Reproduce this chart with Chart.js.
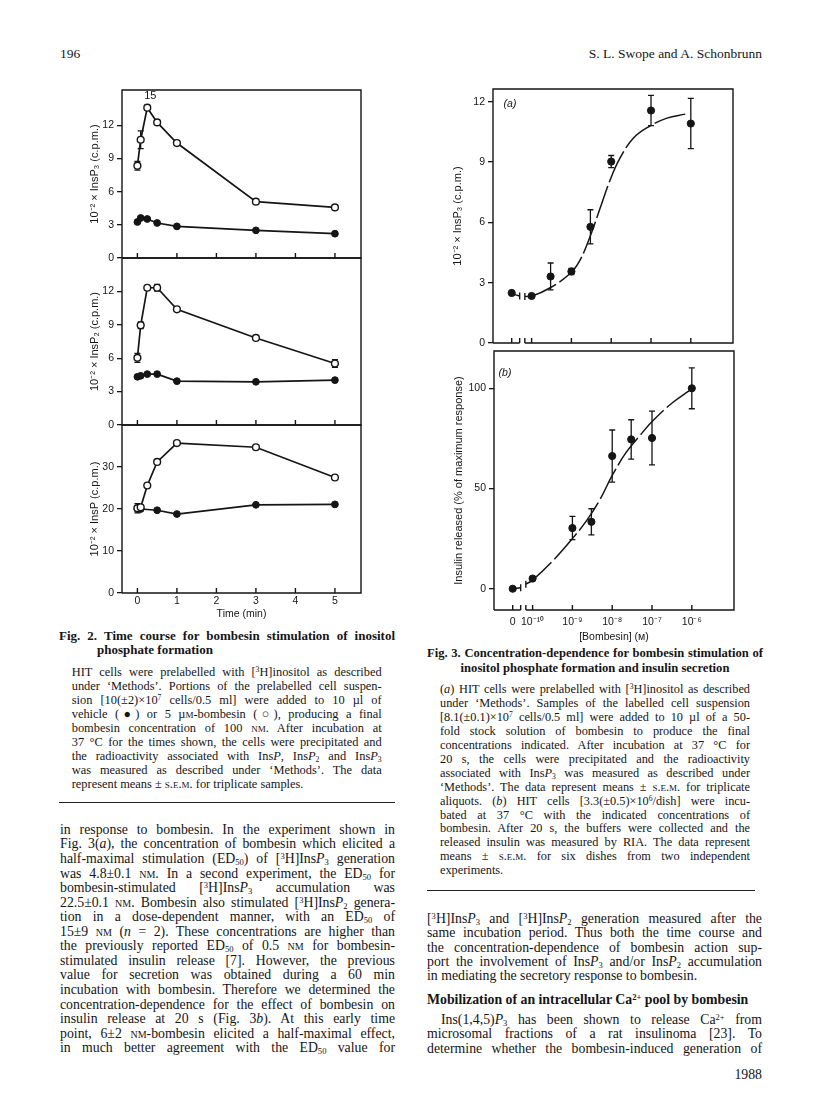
<!DOCTYPE html>
<html>
<head>
<meta charset="utf-8">
<script src="https://cdn.jsdelivr.net/npm/chart.js@4.4.0/dist/chart.umd.min.js"></script>
<style>
  body { margin: 0; width: 816px; height: 1100px; position: relative; overflow: hidden; background: #fff;
         font-family: "Liberation Serif", "Times New Roman", serif; color: #151515; }
  canvas { position: absolute; }
  .ln { position: absolute; white-space: nowrap; }
  .j { text-align: justify; text-align-last: justify; }
  .sc { font-variant: small-caps; }
  .b { font-weight: bold; }
  sup { font-size: 0.62em; vertical-align: 0.5em; line-height: 0; }
  sub { font-size: 0.62em; vertical-align: -0.22em; line-height: 0; }
  .rule { position: absolute; height: 0; border-top: 1.2px solid #222; }
</style>
</head>
<body>
<canvas id="f2a"></canvas>
<canvas id="f2b"></canvas>
<canvas id="f2c"></canvas>
<canvas id="f3a"></canvas>
<canvas id="f3b"></canvas>
<div id="page"></div>

<script>
// ---- Fig. 2: time course (min) ----
const timeMin   = [0, 0.083, 0.25, 0.5, 1, 3, 5];
const timeVehP  = [0, 0.083, 0.5, 1, 3, 5];
const timeTicks = [0, 1, 2, 3, 4, 5];

const insP3Bomb    = [8.35, 10.7, 13.6, 12.27, 10.4, 5.1, 4.58];
const insP3BombErr = [0.4, 0.8, 0, 0, 0, 0, 0];
const insP3Veh     = [3.26, 3.62, 3.53, 3.17, 2.86, 2.5, 2.2];

const insP2Bomb    = [6.03, 8.96, 12.33, 12.33, 10.39, 7.82, 5.52];
const insP2BombErr = [0.4, 0.3, 0, 0.3, 0, 0, 0.35];
const insP2Veh     = [4.33, 4.42, 4.57, 4.57, 3.94, 3.88, 4.03];

const insPBomb    = [20.2, 20.4, 25.6, 31.2, 35.7, 34.7, 27.5];
const insPBombErr = [1.1, 0, 0, 0, 0, 0, 0];
const insPVeh     = [20, 20, 19.7, 18.8, 21, 21.1];

// ---- Fig. 3: concentration dependence ([Bombesin], M) ----
const doseTicks  = [0, 1e-10, 1e-9, 1e-8, 1e-7, 1e-6];
const doseLabels = ['0', '10⁻¹⁰', '10⁻⁹', '10⁻⁸', '10⁻⁷', '10⁻⁶'];

const concA        = [0, 1e-10, 3e-10, 1e-9, 3e-9, 1e-8, 1e-7, 1e-6];
const insP3Dose    = [2.49, 2.34, 3.31, 3.56, 5.78, 9.03, 11.57, 10.92];
const insP3DoseErr = [0, 0, 0.67, 0.15, 0.85, 0.3, 0.75, 1.25];
// fitted curve (log10 of concentration; -10.5 = zero)
const fitA1Log = [-10.5, -10.3];
const fitA1    = [2.45, 2.34];
const fitA2Log = [-10.17, -10, -9.53, -9.02, -8.78, -8.53, -8.28, -8.03, -7.78, -7.44, -7.05, -6.6, -6.14];
const fitA2    = [2.32, 2.33, 2.75, 3.48, 4.14, 5.3, 6.7, 8.1, 9.2, 10.2, 10.77, 11.19, 11.39];

const concB      = [0, 1e-10, 1e-9, 3e-9, 1e-8, 3e-8, 1e-7, 1e-6];
const insulin    = [0, 5.1, 30.3, 33.4, 66.2, 74.5, 75.2, 100];
const insulinErr = [0, 0, 5.8, 6.5, 13, 9.8, 13.4, 10.2];
const fitB1Log = [-10.5, -10.3];
const fitB1    = [0, 0.5];
const fitB2Log = [-10.17, -10, -9.48, -9.0, -8.64, -8.31, -8.0, -7.65, -7.31, -6.98, -6.48, -6.07];
const fitB2    = [2.3, 4.3, 14.2, 25, 34.1, 44.4, 56.5, 68, 76.3, 83.8, 92.9, 98.7];

const INK = '#151515';
const ZERO_POS = -10.5;
const lx = c => (c === 0 ? ZERO_POS : Math.log10(c));

Chart.defaults.font.family = '"Liberation Sans", Arial, sans-serif';
Chart.defaults.font.size = 10.5;
Chart.defaults.color = INK;

const pts = (xs, ys) => xs.map((x, i) => ({ x, y: ys[i] }));

function openSeries(xs, ys, errs) {
    return { data: pts(xs, ys), errors: errs, showLine: true, borderColor: INK, borderWidth: 1.7,
             pointRadius: 3.4, pointBackgroundColor: '#fff', pointBorderColor: INK, pointBorderWidth: 1.4 };
}
function filledSeries(xs, ys, errs, line = true, r = 3.4) {
    return { data: pts(xs, ys), errors: errs, showLine: line, borderColor: INK, borderWidth: 1.7,
             pointRadius: r, pointBackgroundColor: INK, pointBorderColor: INK, pointBorderWidth: 1 };
}
function fitSeries(xs, ys, bar) {
    return { data: pts(xs, ys), showLine: true, pointRadius: 0, borderColor: INK, borderWidth: 1.5,
             borderDash: [34, 4], tension: 0.4, breakBar: bar };
}

// frame, inward x ticks, axis breaks, error bars, text labels
const framePlugin = {
    id: 'frame',
    beforeDatasetsDraw(chart) {
        const { ctx } = chart, xs = chart.scales.x, ys = chart.scales.y;
        ctx.save();
        ctx.strokeStyle = INK; ctx.lineWidth = 1.3;
        chart.data.datasets.forEach(ds => {
            if (!ds.errors) return;
            ds.data.forEach((p, i) => {
                const e = ds.errors[i];
                if (!e) return;
                const x = xs.getPixelForValue(p.x);
                const y1 = ys.getPixelForValue(p.y + e), y2 = ys.getPixelForValue(p.y - e);
                ctx.beginPath();
                ctx.moveTo(x, y1); ctx.lineTo(x, y2);
                ctx.moveTo(x - 3, y1); ctx.lineTo(x + 3, y1);
                ctx.moveTo(x - 3, y2); ctx.lineTo(x + 3, y2);
                ctx.stroke();
            });
        });
        ctx.restore();
    },
    afterDraw(chart, args, opts) {
        const { ctx, chartArea: a } = chart, xs = chart.scales.x, ys = chart.scales.y;
        ctx.save();
        ctx.strokeStyle = INK; ctx.lineWidth = 1.4;
        ctx.beginPath();
        ctx.moveTo(a.left, a.bottom); ctx.lineTo(a.left, a.top);
        ctx.lineTo(a.right, a.top); ctx.lineTo(a.right, a.bottom);
        if (opts.axisBreak) {
            const b1 = xs.getPixelForValue(opts.axisBreak[0]), b2 = xs.getPixelForValue(opts.axisBreak[1]);
            ctx.lineTo(b2, a.bottom);
            ctx.moveTo(b1, a.bottom); ctx.lineTo(a.left, a.bottom);
            ctx.moveTo(b1, a.bottom); ctx.lineTo(b1, a.bottom - 5);
            ctx.moveTo(b2, a.bottom); ctx.lineTo(b2, a.bottom - 5);
        } else {
            ctx.lineTo(a.left, a.bottom);
        }
        opts.xTicks.forEach(v => {
            const x = xs.getPixelForValue(v);
            ctx.moveTo(x, a.bottom); ctx.lineTo(x, a.bottom - 5);
        });
        ctx.stroke();

        chart.data.datasets.forEach(ds => {
            if (!ds.breakBar) return;
            const p = ds.breakBar === 'end' ? ds.data[ds.data.length - 1] : ds.data[0];
            const x = xs.getPixelForValue(p.x), y = ys.getPixelForValue(p.y);
            ctx.beginPath(); ctx.moveTo(x, y - 3.5); ctx.lineTo(x, y + 3.5); ctx.stroke();
        });

        ctx.fillStyle = INK;
        ctx.textAlign = 'center'; ctx.textBaseline = 'middle';
        (opts.labels || []).forEach(l => {
            ctx.font = l.font;
            let x, y;
            if (l.ds !== undefined) {
                const p = chart.data.datasets[l.ds].data[l.i];
                x = xs.getPixelForValue(p.x); y = ys.getPixelForValue(p.y);
            } else {
                x = a.left; y = a.top;
            }
            ctx.fillText(l.text, x + l.dx, y + l.dy);
        });
        ctx.restore();
    }
};
Chart.register(framePlugin);

function makePanel(id, box, cfg) {
    const PT = 12, PR = 8;
    const cv = document.getElementById(id);
    const w = box.r - box.l + cfg.axisW + PR, h = box.b - box.t + PT + cfg.axisH;
    cv.width = w; cv.height = h;
    cv.style.left = (box.l - cfg.axisW) + 'px';
    cv.style.top = (box.t - PT) + 'px';
    cv.style.width = w + 'px'; cv.style.height = h + 'px';

    return new Chart(cv, {
        type: 'scatter',
        data: { datasets: cfg.datasets },
        options: {
            responsive: false,
            animation: false,
            layout: { padding: { top: PT, right: PR, left: 0, bottom: 0 } },
            plugins: {
                legend: { display: false },
                tooltip: { enabled: false },
                frame: { xTicks: cfg.xTicks, axisBreak: cfg.axisBreak, labels: cfg.labels }
            },
            scales: {
                x: {
                    type: 'linear', min: cfg.xMin, max: cfg.xMax,
                    afterFit: s => { s.height = cfg.axisH; },
                    afterBuildTicks: s => { s.ticks = cfg.xTicks.map(v => ({ value: v })); },
                    grid: { display: false, drawTicks: false },
                    border: { display: false },
                    ticks: { display: !!cfg.xLabels, padding: cfg.xPad || 2, maxRotation: 0,
                             font: { size: 10.5 },
                             callback: (v, i) => (cfg.xLabels ? cfg.xLabels[i] : v) },
                    title: { display: !!cfg.xTitle, text: cfg.xTitle, font: { size: 10.5 },
                             padding: { top: 0, bottom: cfg.xTitlePad || 0 } }
                },
                y: {
                    type: 'linear', min: cfg.yMin, max: cfg.yMax,
                    afterFit: s => { s.width = cfg.axisW; },
                    afterBuildTicks: s => { s.ticks = cfg.yTicks.map(v => ({ value: v })); },
                    grid: { drawOnChartArea: false, tickLength: 5, color: INK, lineWidth: 1.3 },
                    border: { display: false },
                    ticks: { padding: 3, font: { size: 10.5 } },
                    title: { display: true, text: cfg.yTitle, font: { size: 11 },
                             padding: { top: cfg.yTitlePad, bottom: 0 } }
                }
            }
        }
    });
}

const F2X = { xMin: -0.39, xMax: 5.66 };

makePanel('f2a', { l: 122, t: 90, r: 361, b: 258 }, {
    ...F2X, axisW: 40, axisH: 12, yMin: 0, yMax: 15.2, yTicks: [0, 3, 6, 9, 12], yTitlePad: 6,
    xTicks: timeTicks, yTitle: '10⁻² × InsP₃ (c.p.m.)',
    datasets: [openSeries(timeMin, insP3Bomb, insP3BombErr), filledSeries(timeMin, insP3Veh)],
    labels: [{ ds: 0, i: 2, text: '15', dx: 3, dy: -12, font: '11px "Liberation Sans", Arial' }]
});
makePanel('f2b', { l: 122, t: 258, r: 361, b: 425 }, {
    ...F2X, axisW: 40, axisH: 12, yMin: 0, yMax: 15, yTicks: [0, 3, 6, 9, 12], yTitlePad: 6,
    xTicks: timeTicks, yTitle: '10⁻² × InsP₂ (c.p.m.)',
    datasets: [openSeries(timeMin, insP2Bomb, insP2BombErr), filledSeries(timeMin, insP2Veh)]
});
makePanel('f2c', { l: 122, t: 425, r: 361, b: 593 }, {
    ...F2X, axisW: 40, axisH: 30, yMin: 0, yMax: 40, yTicks: [0, 10, 20, 30], yTitlePad: 6,
    xTicks: timeTicks, xLabels: timeTicks.map(String), xPad: 2,
    xTitle: 'Time (min)', xTitlePad: 3, yTitle: '10⁻² × InsP (c.p.m.)',
    datasets: [openSeries(timeMin, insPBomb, insPBombErr), filledSeries(timeVehP, insPVeh)]
});

const F3X = { xMin: -10.97, xMax: -4.94, axisBreak: [-10.3, -10.17] };
const doseTickPos = doseTicks.map(lx);

makePanel('f3a', { l: 493, t: 89, r: 733, b: 343 }, {
    ...F3X, axisW: 44, axisH: 12, yMin: 0, yMax: 12.64, yTicks: [0, 3, 6, 9, 12], yTitlePad: 2,
    xTicks: doseTickPos, yTitle: '10⁻² × InsP₃ (c.p.m.)',
    datasets: [
        filledSeries(concA.map(lx), insP3Dose, insP3DoseErr, false, 3.6),
        fitSeries(fitA1Log, fitA1, 'end'),
        fitSeries(fitA2Log, fitA2, 'start')
    ],
    labels: [{ text: '(a)', dx: 17, dy: 15, font: 'italic 10.5px "Liberation Sans", Arial' }]
});
makePanel('f3b', { l: 494, t: 351, r: 734, b: 610 }, {
    ...F3X, axisW: 44, axisH: 34, yMin: -10.6, yMax: 118.6, yTicks: [0, 50, 100], yTitlePad: 2,
    xTicks: doseTickPos, xLabels: doseLabels, xPad: 6,
    xTitle: '[Bombesin] (ᴍ)', xTitlePad: 1, yTitle: 'Insulin released (% of maximum response)',
    datasets: [
        filledSeries(concB.map(lx), insulin, insulinErr, false, 3.6),
        fitSeries(fitB1Log, fitB1, 'end'),
        fitSeries(fitB2Log, fitB2, 'start')
    ],
    labels: [{ text: '(b)', dx: 11, dy: 22, font: 'italic 10.5px "Liberation Sans", Arial' }]
});

// ---- page text ----
const page = document.getElementById('page');
function placeLines(lines, o) {
    const fs = o.size, lh = o.lh || fs;
    const off = (lh - 1.107 * fs) / 2 + 0.661 * fs;   // line top -> x-height centre
    lines.forEach((html, i) => {
        const d = document.createElement('div');
        const plain = (o.plain || []).includes(i) || o.justify === false;
        d.className = 'ln' + (plain ? '' : ' j') + (o.bold ? ' b' : '');
        const indent = (o.indent && o.indent[i]) || 0;
        d.style.left = (o.left + indent) + 'px';
        d.style.top = (o.y - off + i * lh) + 'px';
        if (o.width) d.style.width = (o.width - indent) + 'px';
        if (o.align) { d.style.textAlign = o.align; d.style.textAlignLast = o.align; }
        d.style.fontSize = fs + 'px';
        d.style.lineHeight = lh + 'px';
        d.innerHTML = html;
        page.appendChild(d);
    });
}
function rule(x1, x2, y) {
    const d = document.createElement('div');
    d.className = 'rule';
    d.style.left = x1 + 'px'; d.style.width = (x2 - x1) + 'px'; d.style.top = y + 'px';
    page.appendChild(d);
}
const sc = t => `<span class="sc">${t}</span>`;
const P = n => `Ins<i>P</i>${n ? '<sub>' + n + '</sub>' : ''}`;

placeLines(['196'], { left: 60, y: 55, size: 13.5, justify: false });
placeLines(['S. L. Swope and A. Schonbrunn'], { left: 500, width: 262, y: 55, size: 13.5, align: 'right' });

placeLines(['Fig. 2. Time course for bombesin stimulation of inositol'],
    { left: 59, width: 336, y: 636.7, size: 13, bold: true });
placeLines(['phosphate formation'], { left: 97, y: 651, size: 13, bold: true, justify: false });

placeLines([
    'HIT cells were prelabelled with [<sup>3</sup>H]inositol as described',
    'under ‘Methods’. Portions of the prelabelled cell suspen-',
    'sion [10(±2)×10<sup>7</sup> cells/0.5 ml] were added to 10 µl of',
    `vehicle (●) or 5 µ${sc('m')}-bombesin (○), producing a final`,
    `bombesin concentration of 100 ${sc('nm')}. After incubation at`,
    '37 °C for the times shown, the cells were precipitated and',
    `the radioactivity associated with ${P()}, ${P(2)} and ${P(3)}`,
    'was measured as described under ‘Methods’. The data',
    `represent means ± ${sc('s.e.m.')} for triplicate samples.`
], { left: 71.7, width: 310, y: 673.3, size: 12.4, lh: 14, plain: [8] });
rule(59, 395, 801.5);

placeLines([
    'in response to bombesin. In the experiment shown in',
    'Fig. 3(<i>a</i>), the concentration of bombesin which elicited a',
    `half-maximal stimulation (ED<sub>50</sub>) of [<sup>3</sup>H]${P(3)} generation`,
    `was 4.8±0.1 ${sc('nm')}. In a second experiment, the ED<sub>50</sub> for`,
    `bombesin-stimulated [<sup>3</sup>H]${P(3)} accumulation was`,
    `22.5±0.1 ${sc('nm')}. Bombesin also stimulated [<sup>3</sup>H]${P(2)} genera-`,
    'tion in a dose-dependent manner, with an ED<sub>50</sub> of',
    `15±9 ${sc('nm')} (<i>n</i> = 2). These concentrations are higher than`,
    `the previously reported ED<sub>50</sub> of 0.5 ${sc('nm')} for bombesin-`,
    'stimulated insulin release [7]. However, the previous',
    'value for secretion was obtained during a 60 min',
    'incubation with bombesin. Therefore we determined the',
    'concentration-dependence for the effect of bombesin on',
    'insulin release at 20 s (Fig. 3<i>b</i>). At this early time',
    `point, 6±2 ${sc('nm')}-bombesin elicited a half-maximal effect,`,
    'in much better agreement with the ED<sub>50</sub> value for'
], { left: 60, width: 335, y: 831.7, size: 13.8, lh: 14.55 });

placeLines(['Fig. 3. Concentration-dependence for bombesin stimulation of'],
    { left: 427, width: 336, y: 655, size: 12.6, bold: true });
placeLines(['inositol phosphate formation and insulin secretion'],
    { left: 427, width: 336, y: 669.3, size: 12.6, bold: true, align: 'center' });

placeLines([
    '(<i>a</i>) HIT cells were prelabelled with [<sup>3</sup>H]inositol as described',
    'under ‘Methods’. Samples of the labelled cell suspension',
    '[8.1(±0.1)×10<sup>7</sup> cells/0.5 ml] were added to 10 µl of a 50-',
    'fold stock solution of bombesin to produce the final',
    'concentrations indicated. After incubation at 37 °C for',
    '20 s, the cells were precipitated and the radioactivity',
    `associated with ${P(3)} was measured as described under`,
    `‘Methods’. The data represent means ± ${sc('s.e.m.')} for triplicate`,
    'aliquots. (<i>b</i>) HIT cells [3.3(±0.5)×10<sup>6</sup>/dish] were incu-',
    'bated at 37 °C with the indicated concentrations of',
    'bombesin. After 20 s, the buffers were collected and the',
    'released insulin was measured by RIA. The data represent',
    `means ± ${sc('s.e.m.')} for six dishes from two independent`,
    'experiments.'
], { left: 440, width: 310, y: 691.7, size: 12.3, lh: 13.9, plain: [13] });
rule(427, 755, 890);

placeLines([
    `[<sup>3</sup>H]${P(3)} and [<sup>3</sup>H]${P(2)} generation measured after the`,
    'same incubation period. Thus both the time course and',
    'the concentration-dependence of bombesin action sup-',
    `port the involvement of ${P(3)} and/or ${P(2)} accumulation`,
    'in mediating the secretory response to bombesin.'
], { left: 427, width: 335, y: 920.7, size: 13.8, lh: 14.25, plain: [4] });
placeLines(['Mobilization of an intracellular Ca<sup>2+</sup> pool by bombesin'],
    { left: 427, y: 1001.7, size: 13.8, bold: true, justify: false });
placeLines([
    'Ins(1,4,5)<i>P</i><sub>3</sub> has been shown to release Ca<sup>2+</sup> from',
    'microsomal fractions of a rat insulinoma [23]. To',
    'determine whether the bombesin-induced generation of'
], { left: 427, width: 335, y: 1021.7, size: 13.8, lh: 14.25, indent: [14] });
placeLines(['1988'], { left: 600, width: 162, y: 1076, size: 13.8, align: 'right' });
</script>
</body>
</html>
